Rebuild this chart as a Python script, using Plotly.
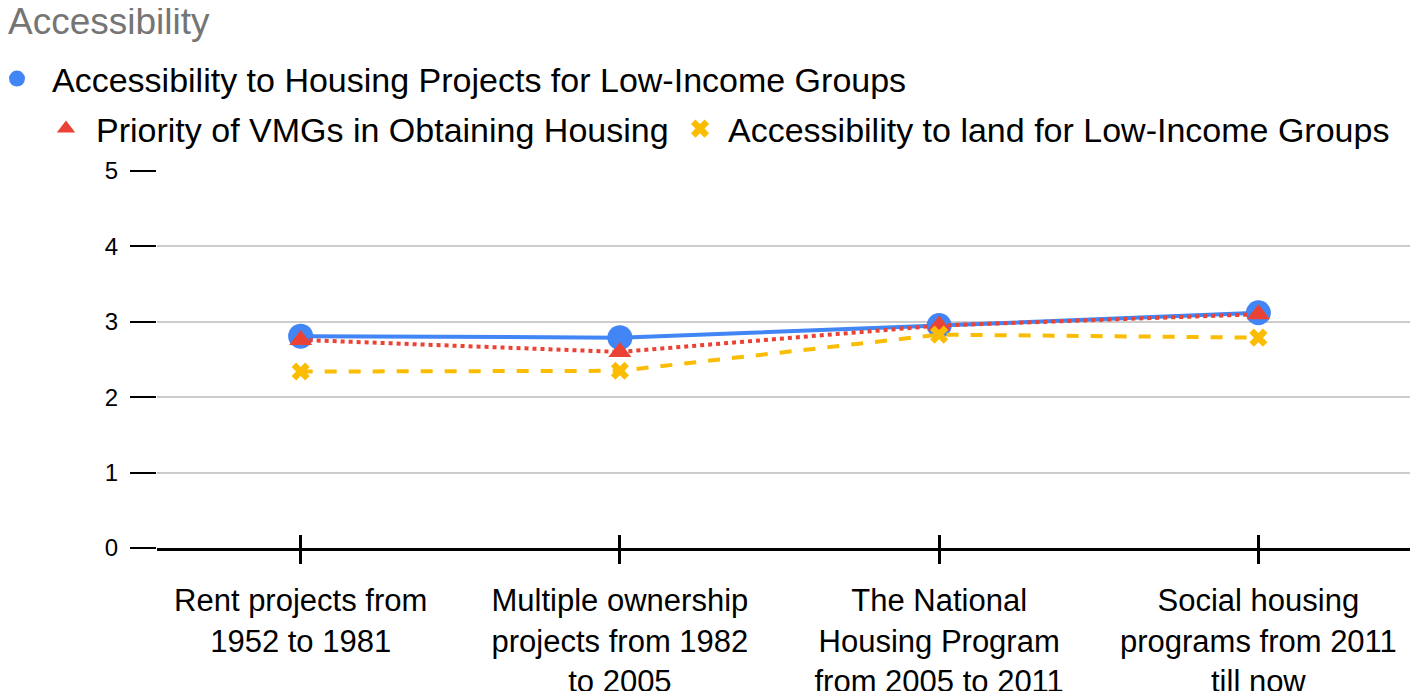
import plotly.graph_objects as go

categories = [
    "Rent projects from<br>1952 to 1981",
    "Multiple ownership<br>projects from 1982<br>to 2005",
    "The National<br>Housing Program<br>from 2005 to 2011",
    "Social housing<br>programs from 2011<br>till now",
]
housing_projects = [2.81, 2.79, 2.95, 3.12]
priority_vmgs = [2.76, 2.60, 2.95, 3.10]
land_access = [2.34, 2.35, 2.83, 2.79]
y_ticks = [0, 1, 2, 3, 4, 5]

names = [
    "Accessibility to Housing Projects for Low-Income Groups",
    "Priority of VMGs in Obtaining Housing",
    "Accessibility to land for Low-Income Groups",
]
colors = ["#4285F4", "#EA4335", "#FBBC04"]
dashes = ["solid", "dot", "dash"]
symbols = ["circle", "triangle-up", "x"]
sizes = [25, 20, 16]
legends = ["legend", "legend2", "legend3"]
series = [housing_projects, priority_vmgs, land_access]

FONT = "Liberation Sans, Arial, sans-serif"
xpos = list(range(len(categories)))

# page has an 8px body margin: figure is sized/offset to fill the 1418x691 window
W, H = 1410, 683
L, T, B = 149, 163, 143
PW = W - L


def px_x(p):
    return (p - L) / PW


def px_y(p):
    return 1 - p / H


fig = go.Figure()
for vals, name, c, d, s, sz, lg in zip(series, names, colors, dashes, symbols, sizes, legends):
    fig.add_trace(go.Scatter(
        x=xpos, y=vals, mode="lines", line=dict(color=c, width=4, dash=d),
        showlegend=False, hoverinfo="skip"))
    fig.add_trace(go.Scatter(
        x=xpos, y=vals, mode="markers", name=name, legend=lg,
        marker=dict(color=c, symbol=s, size=sz, line=dict(width=0))))

leg_common = dict(orientation="h", xref="paper", yref="container", xanchor="left",
                  yanchor="top", font=dict(size=34, family=FONT, color="#000000"),
                  bgcolor="rgba(0,0,0,0)", tracegroupgap=0)

fig.update_layout(
    width=W, height=H,
    margin=dict(l=L, r=0, t=T, b=B, autoexpand=False, pad=0),
    paper_bgcolor="white", plot_bgcolor="white",
    font=dict(family=FONT, color="#000000"),
    title=dict(text="Accessibility", font=dict(size=37, color="#757575", family=FONT),
               xref="container", x=0.0, xanchor="left",
               yref="container", y=1.0, yanchor="top", pad=dict(t=0, l=0)),
    legend=dict(x=px_x(-26), y=px_y(42), itemwidth=60, **leg_common),
    legend2=dict(x=px_x(28), y=px_y(92), itemwidth=50, **leg_common),
    legend3=dict(x=px_x(664), y=px_y(92), itemwidth=46, **leg_common),
    xaxis=dict(range=[-0.45, 3.5], tickmode="array", tickvals=xpos, ticktext=categories,
               showgrid=False, zeroline=False, showline=True, linecolor="#000000", linewidth=3,
               ticks="outside", ticklen=13, tickwidth=3, tickcolor="#000000",
               tickfont=dict(size=31, family=FONT, color="#000000"), ticklabelstandoff=10),
    xaxis2=dict(range=[-0.45, 3.5], overlaying="x", anchor="y", side="bottom",
                tickmode="array", tickvals=xpos, showticklabels=False,
                showgrid=False, zeroline=False, showline=False,
                ticks="inside", ticklen=13, tickwidth=3, tickcolor="#000000"),
    yaxis=dict(range=[0, 5], tickmode="array", tickvals=y_ticks,
               showgrid=True, gridcolor="#CCCCCC", gridwidth=2, zeroline=False,
               showline=False, ticks="outside", ticklen=26, tickwidth=2, tickcolor="#000000",
               tickfont=dict(size=24, family=FONT, color="#000000"), ticklabelstandoff=7),
)
fig.add_trace(go.Scatter(x=xpos, y=housing_projects, xaxis="x2", mode="lines",
                         line=dict(width=0, color="rgba(0,0,0,0)"), showlegend=False,
                         hoverinfo="skip"))

fig.write_html("out.html")
